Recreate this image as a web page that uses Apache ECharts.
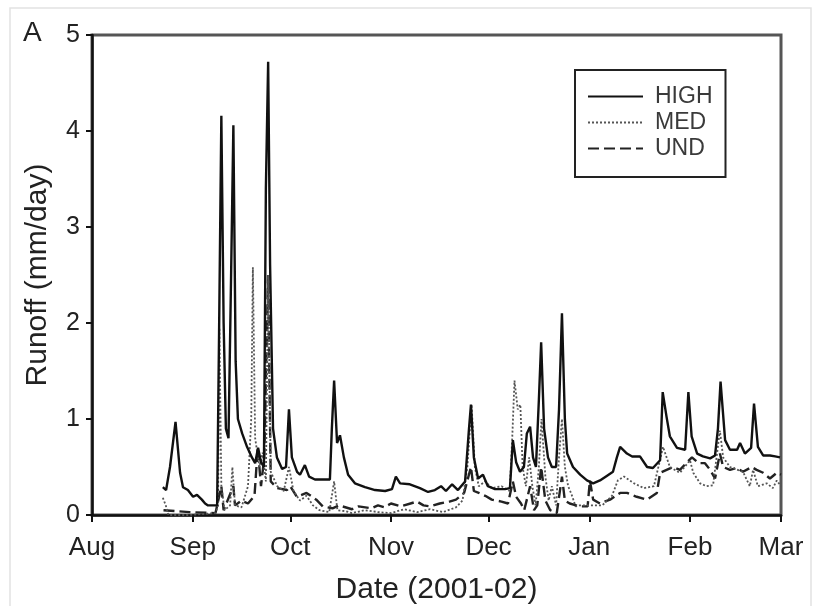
<!DOCTYPE html>
<html>
<head>
<meta charset="utf-8">
<script src="https://cdn.jsdelivr.net/npm/echarts@6/dist/echarts.min.js"></script>
<style>html,body{margin:0;padding:0;background:#fff}#c{width:820px;height:606px}</style>
</head>
<body>
<div id="c"></div>
<script>
// x = days since 1 Aug 2001
const monthTicks = [0, 31, 61, 92, 122, 153, 184, 212];
const monthLabels = ['Aug', 'Sep', 'Oct', 'Nov', 'Dec', 'Jan', 'Feb', 'Mar'];
const yTicks = [0, 1, 2, 3, 4, 5];

const high = [
[21.8,0.29],[22.8,0.26],[24,0.5],[25.7,0.97],[27.1,0.44],[28,0.29],[29.5,0.26],[31.1,0.19],[32.3,0.21],[33.8,0.16],[34.8,0.12],[35.7,0.1],[38.5,0.1],
[39.1,1.9],[39.8,4.16],[40.5,2.0],[41.2,0.9],[42,0.8],[42.8,2.5],[43.5,4.06],[44.2,1.6],[44.9,1.0],[46.2,0.85],[47.7,0.71],[49.2,0.6],[50.2,0.54],[51.1,0.7],[52,0.55],[52.9,0.5],
[53.5,3.4],[54.2,4.72],[54.8,2.6],[55.7,0.9],[56.9,0.6],[58.5,0.48],[59.7,0.5],[60.6,1.1],[61.5,0.6],[63.1,0.45],[64,0.42],[65.5,0.52],[66.8,0.4],[68.6,0.37],[70.8,0.37],[73.2,0.37],
[73.8,0.9],[74.5,1.4],[75.4,0.75],[76.3,0.83],[77.5,0.6],[78.8,0.42],[80.9,0.33],[84,0.29],[87.1,0.26],[90.2,0.25],[92.3,0.27],[93.5,0.4],[94.8,0.33],[97.8,0.32],[100.9,0.28],
[103.4,0.24],[105.5,0.26],[107.4,0.3],[108.9,0.25],[110.8,0.32],[112.6,0.26],[114.8,0.35],[116,0.9],[116.6,1.15],[117.5,0.6],[118.8,0.38],[120.3,0.42],[121.8,0.3],[124,0.27],
[127.1,0.27],[128.6,0.28],[129.5,0.78],[130.5,0.55],[131.7,0.45],[132.9,0.5],[133.8,0.85],[134.8,0.92],[135.7,0.6],[136.6,0.5],[137.5,1.2],[138.2,1.8],[139.1,0.9],[140.3,0.6],
[141.5,0.5],[142.8,0.5],[143.7,1.1],[144.6,2.1],[145.5,1.0],[146.2,0.64],[148,0.5],[150.2,0.42],[152.3,0.36],[154.2,0.33],[156.3,0.36],[158.5,0.41],[160.3,0.45],[161.5,0.6],
[162.5,0.71],[164.6,0.64],[166.2,0.61],[168.6,0.61],[170.8,0.5],[172.6,0.49],[174.8,0.57],[175.6,1.28],[176.8,1.02],[177.8,0.82],[180,0.7],[182.5,0.68],[183.5,1.28],[184.5,0.82],
[186.2,0.64],[188,0.61],[190.2,0.59],[191.7,0.62],[192.6,0.9],[193.4,1.39],[194.8,0.78],[196.3,0.68],[198.5,0.68],[199.4,0.75],[200.9,0.64],[202.8,0.7],[203.7,1.16],[204.9,0.71],
[206.5,0.62],[208.6,0.62],[210.2,0.61],[211.7,0.6]
];

const med = [
[21.8,0.18],[22.7,0.1],[23.5,0.0],[30,0.0],[38,0.02],[38.8,0.1],[39.2,1.95],[39.8,0.3],[40.8,0.05],[42.5,0.1],[43.2,0.5],[44,0.1],[46,0.08],[48,0.3],[49,1.0],[49.5,2.58],
[50.2,0.8],[51.5,0.5],[52.5,0.65],[53.5,0.35],[54.2,2.5],[55,0.45],[57,0.3],[59,0.25],[60.6,0.5],[62,0.25],[64,0.15],[66,0.2],[68,0.1],[70,0.05],[73,0.03],[74.5,0.35],[75.5,0.05],
[78,0.04],[80,0.02],[84,0.05],[88,0.03],[92,0.02],[96,0.06],[100,0.03],[104,0.06],[108,0.03],[112,0.08],[114,0.15],[115.5,0.5],[116.8,1.15],[117.8,0.5],[119,0.3],[121,0.35],
[123,0.28],[126,0.3],[128.5,0.25],[129.3,0.8],[130,1.4],[131,1.1],[131.8,1.15],[132.5,0.5],[133.5,0.3],[134.5,0.6],[135.5,0.3],[136.5,0.1],[137.5,0.5],[138.3,1.0],[139.5,0.4],
[140.5,0.15],[141.5,0.3],[142.8,0.1],[143.7,0.6],[144.6,1.0],[145.5,0.5],[146.5,0.3],[147.5,0.22],[148.8,0.09],[150,0.1],[154,0.1],[157,0.1],[160,0.2],[161.8,0.36],[163.7,0.4],
[166.8,0.33],[169.8,0.28],[172.9,0.3],[175.7,0.71],[177.8,0.5],[180.9,0.44],[184,0.57],[185,0.44],[187.1,0.33],[189.1,0.3],[191.1,0.31],[193.2,0.88],[194.2,0.6],[196.3,0.5],
[200.3,0.45],[202.4,0.3],[203.4,0.47],[204.9,0.3],[207.6,0.33],[209.5,0.28],[210.7,0.36],[212,0.3]
];

const und = [
[22,0.05],[30,0.03],[38,0.02],[39.8,0.3],[40.5,0.05],[43.5,0.3],[44,0.1],[46,0.15],[48,0.12],[50,0.2],[51,0.7],[52,0.3],[53,0.6],[54.2,2.5],[55,0.35],[57,0.28],[60,0.26],
[61,0.3],[63,0.19],[66,0.23],[69,0.16],[71,0.09],[74,0.07],[76,0.1],[80,0.06],[82,0.09],[86,0.07],[88,0.1],[90,0.08],[92,0.12],[95,0.09],[98,0.12],[100,0.14],[102,0.1],
[104,0.09],[107,0.12],[110,0.14],[112,0.16],[114.5,0.23],[116.6,0.5],[117.5,0.25],[119,0.23],[121,0.2],[123,0.16],[126,0.14],[128,0.12],[129.5,0.35],[130.5,0.19],[132,0.12],
[133,0.05],[134.8,0.3],[136,0.05],[137,0.1],[138.2,0.5],[139.5,0.15],[141,0.05],[143,0.02],[144.6,0.4],[145.5,0.15],[147,0.12],[150,0.09],[152.5,0.09],[153.2,0.36],[154.2,0.16],
[156.3,0.12],[159.4,0.16],[162.5,0.23],[164.6,0.23],[167.6,0.19],[170.8,0.16],[173.8,0.23],[174.8,0.44],[176.8,0.47],[178.8,0.5],[180.9,0.47],[182.8,0.54],[184.6,0.6],
[186.7,0.54],[188.6,0.54],[190.2,0.47],[191.7,0.38],[193.2,0.64],[194.2,0.5],[196.3,0.47],[198.4,0.49],[200.3,0.45],[203,0.5],[204.5,0.47],[206.5,0.44],[208.6,0.38],[210.7,0.44],[212,0.42]
];

const chart = echarts.init(document.getElementById('c'));
const txt = '#222';
const ff = '"Liberation Sans", Arial, sans-serif';
chart.setOption({
  animation: false,
  backgroundColor: '#fff',
  textStyle: { fontFamily: ff },
  graphic: [
    { type: 'rect', shape: { x: 10, y: 8, width: 801, height: 610 }, style: { fill: 'none', stroke: '#e2e2e2', lineWidth: 1.5 }, silent: true },
    { type: 'text', left: 23, top: 19, style: { text: 'A', font: '28px ' + ff, fill: txt } }
  ],
  grid: { left: 92, right: 39, top: 35, bottom: 91, show: true, borderColor: '#555', borderWidth: 3, outerBoundsMode: 'none', containLabel: false },
  legend: {
    orient: 'vertical', left: 575, top: 70,
    padding: [14, 13, 16, 12], itemGap: 1, itemWidth: 55, itemHeight: 14,
    borderColor: '#222', borderWidth: 2, backgroundColor: '#fff',
    itemStyle: { opacity: 0 },
    textStyle: { fontSize: 23, lineHeight: 25, color: '#3a3a3a', fontFamily: ff, padding: [0, 0, 0, 7] },
    data: ['HIGH', 'MED', 'UND']
  },
  xAxis: {
    type: 'value', min: 0, max: 212,
    name: 'Date (2001-02)', nameLocation: 'middle', nameGap: 60,
    nameTextStyle: { fontSize: 30, color: txt },
    axisLine: { show: true, lineStyle: { color: '#111', width: 2.5 } },
    axisTick: { show: true, customValues: monthTicks, length: 7, lineStyle: { color: '#111', width: 2 } },
    axisLabel: {
      customValues: monthTicks, fontSize: 26, color: txt, margin: 20,
      formatter: v => monthLabels[monthTicks.indexOf(v)] || ''
    },
    splitLine: { show: false }
  },
  yAxis: {
    type: 'value', min: 0, max: 5, interval: 1,
    name: 'Runoff (mm/day)', nameLocation: 'middle', nameGap: 39, nameRotate: 90,
    nameTextStyle: { fontSize: 30, color: txt },
    axisLine: { show: true, lineStyle: { color: '#111', width: 2.5 } },
    axisTick: { show: true, length: 6, lineStyle: { color: '#111', width: 2 } },
    axisLabel: { fontSize: 25, color: txt, margin: 12, formatter: v => yTicks.includes(v) ? String(v) : '' },
    splitLine: { show: false }
  },
  series: [
    { name: 'HIGH', type: 'line', data: high, showSymbol: false, symbol: 'none', z: 4,
      lineStyle: { color: '#111', width: 2.4, type: 'solid' }, itemStyle: { color: '#111' } },
    { name: 'MED', type: 'line', data: med, showSymbol: false, symbol: 'none', z: 3,
      lineStyle: { color: '#555', width: 1.8, type: [2, 2] }, itemStyle: { color: '#555' } },
    { name: 'UND', type: 'line', data: und, showSymbol: false, symbol: 'none', z: 2,
      lineStyle: { color: '#222', width: 2.4, type: [11, 5] }, itemStyle: { color: '#222' } }
  ]
});
</script>
</body>
</html>
